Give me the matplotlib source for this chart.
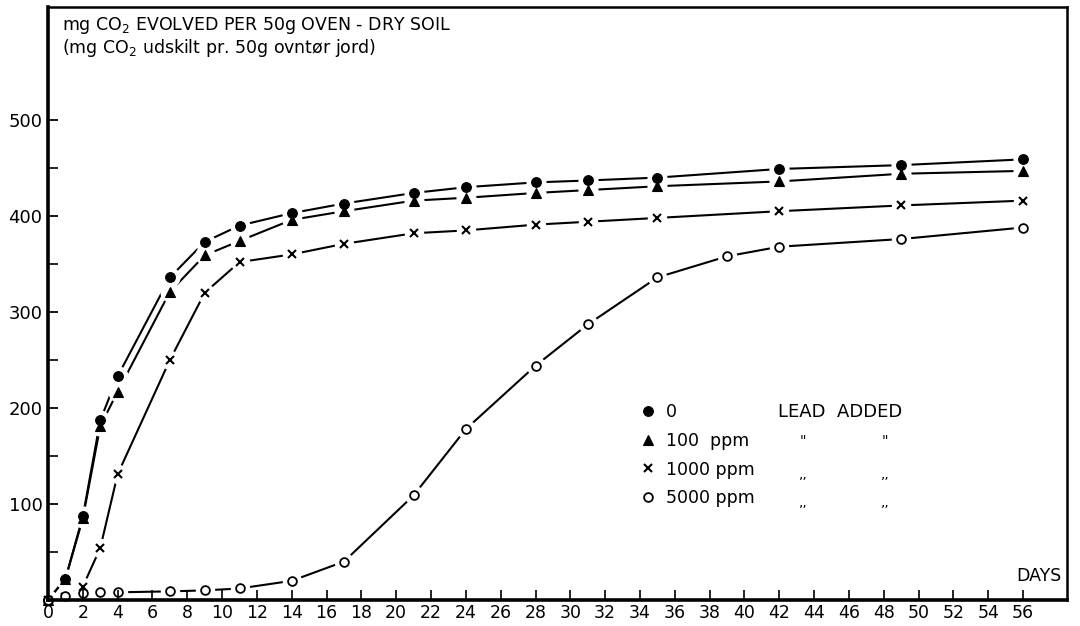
import matplotlib
matplotlib.use("Agg")
import matplotlib.pyplot as plt
from matplotlib.lines import Line2D

plt.rcParams['font.family'] = ['DejaVu Sans']

# ---- data (days, mg CO2 evolved per 50 g oven-dry soil) ----
days_main = [0, 1, 2, 3, 4, 7, 9, 11, 14, 17, 21, 24, 28, 31, 35, 42, 49, 56]
co2_0ppm = [0, 22, 87, 187, 233, 336, 373, 390, 403, 413, 424, 430, 435, 437, 440, 449, 453, 459]
co2_100ppm = [0, 22, 85, 181, 217, 321, 359, 374, 396, 405, 416, 419, 424, 427, 431, 436, 444, 447]
co2_1000ppm = [0, 3, 14, 54, 131, 250, 320, 352, 360, 371, 382, 385, 391, 394, 398, 405, 411, 416]
days_5000 = [0, 1, 2, 3, 4, 7, 9, 11, 14, 17, 21, 24, 28, 31, 35, 39, 42, 49, 56]
co2_5000ppm = [0, 4, 7, 8, 8, 9, 10, 12, 20, 40, 109, 178, 244, 287, 336, 358, 368, 376, 388]

x_ticks = list(range(0, 57, 2))
y_ticks = [100, 200, 300, 400, 500]
y_minor = [50, 150, 250, 350, 450]

legend_labels = ["0", "100  ppm", "1000 ppm", "5000 ppm"]

W, H = 1080, 626
fig = plt.figure(figsize=(W / 100, H / 100), dpi=100)
fig.patch.set_facecolor('white')

x0, x1, y0, y1 = 48, 1067, 600, 7
ax = fig.add_axes([x0 / W, 1 - y0 / H, (x1 - x0) / W, (y0 - y1) / H])
px_per_day = (1023 - 48) / 56.0
px_per_unit = 0.96
ax.set_xlim(0, (x1 - x0) / px_per_day)
ax.set_ylim(0, (y0 - y1) / px_per_unit)

series = [
    (days_main, co2_0ppm, dict(marker='o', ms=7.0, mfc='black', mec='black', mew=0.8), 14.5),
    (days_main, co2_100ppm, dict(marker='^', ms=7.3, mfc='black', mec='black', mew=0.8), 14.5),
    (days_main, co2_1000ppm, dict(marker='x', ms=6.0, mfc='black', mec='black', mew=1.5), 14.0),
    (days_5000, co2_5000ppm, dict(marker='o', ms=6.3, mfc='white', mec='black', mew=1.3), 14.0),
]

for xs, ys, mk, halo in series:
    ax.plot(xs, ys, color='black', lw=1.5, zorder=2, clip_on=False, solid_capstyle='butt')
for xs, ys, mk, halo in series:
    ax.plot(xs, ys, linestyle='none', marker='o', ms=halo, mfc='white', mec='none', zorder=3, clip_on=False)
for xs, ys, mk, halo in series:
    ax.plot(xs, ys, linestyle='none', color='black', zorder=4, clip_on=False, **mk)

# spines
for side, lw in [('left', 2.6), ('bottom', 2.6), ('top', 1.8), ('right', 1.8)]:
    ax.spines[side].set_linewidth(lw)
    ax.spines[side].set_color('black')
    ax.spines[side].set_zorder(5)
ax.xaxis.set_zorder(6)
ax.yaxis.set_zorder(6)

ax.set_xticks(x_ticks)
ax.set_xticklabels([str(t) for t in x_ticks])
ax.set_yticks(y_ticks)
ax.set_yticklabels([str(t) for t in y_ticks])
ax.set_yticks(y_minor, minor=True)
ax.tick_params(axis='x', direction='in', length=7, width=1.2, labelsize=12.5, pad=3, colors='black')
ax.tick_params(axis='y', which='major', direction='in', length=7.5, width=1.3, labelsize=13, pad=4)
ax.tick_params(axis='y', which='minor', direction='in', length=7, width=1.2)

# titles
fig.text(62 / W, 1 - 30 / H, r'mg CO$_2$ EVOLVED PER 50g OVEN - DRY SOIL',
         fontsize=12.5, va='baseline', ha='left')
fig.text(62 / W, 1 - 53 / H, r'(mg CO$_2$ udskilt pr. 50g ovntør jord)',
         fontsize=12.5, va='baseline', ha='left')
fig.text(1061 / W, 1 - 581 / H, 'DAYS', fontsize=12.5, va='baseline', ha='right')

# legend
handles = [Line2D([], [], linestyle='none', color='black', **mk) for _, _, mk, _ in series]
ax.legend(handles, legend_labels, loc='upper left', bbox_to_anchor=(639 / W, 1 - 403 / H),
          bbox_transform=fig.transFigure, frameon=False, handlelength=1.0, handletextpad=0.55,
          labelspacing=0.62, borderpad=0, borderaxespad=0, fontsize=12.5)

rows = [412, 441, 469, 497]
fig.text(778 / W, 1 - rows[0] / H, 'LEAD  ADDED', fontsize=13, va='center', ha='left')
for i, r in enumerate(rows[1:]):
    mark = '"' if i == 0 else ',,'
    dy = 0 if i == 0 else 5
    for xx in (803, 885):
        fig.text(xx / W, 1 - (r + dy) / H, mark, fontsize=10, va='center', ha='center')

fig.savefig('out.png', dpi=100, facecolor='white')
